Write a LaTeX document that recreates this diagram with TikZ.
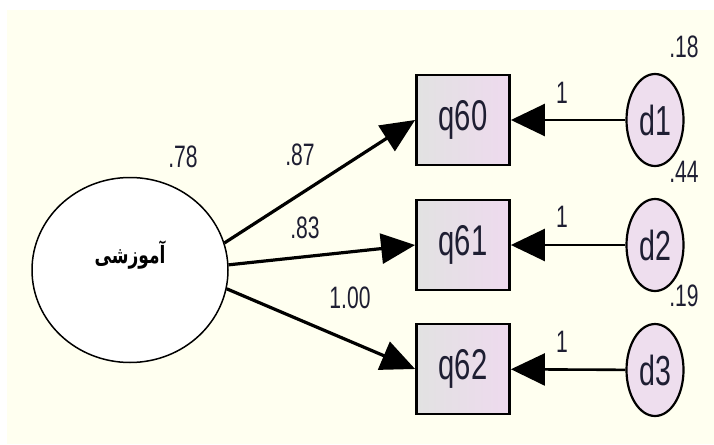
\documentclass[tikz,border=0pt]{standalone}
\usepackage{fontspec}
\setmainfont{Liberation Sans}
\newfontfamily\arabicfont[Script=Arabic]{DejaVu Sans}
\TeXXeTstate=1
\usetikzlibrary{arrows.meta,shapes.geometric}
\definecolor{bgcream}{RGB}{255,255,240}
\definecolor{boxleft}{RGB}{226,226,226}
\definecolor{boxright}{RGB}{238,218,238}
\definecolor{errfill}{RGB}{238,222,238}
\definecolor{txt}{RGB}{30,30,50}
\newcommand\narrowtxt[1]{\scalebox{0.68}[1]{#1}}
\begin{document}
\begin{tikzpicture}[x=1pt,y=-1pt,
  obs/.style={draw,line width=2.8pt,left color=boxleft,right color=boxright,
    minimum width=93pt,minimum height=90pt,inner sep=0pt,
    font=\fontsize{43}{43}\selectfont,text=txt},
  err/.style={ellipse,draw,line width=2.2pt,fill=errfill,minimum width=57pt,
    minimum height=92pt,inner sep=0pt,font=\fontsize{42}{42}\selectfont,text=txt},
  lat/.style={ellipse,draw,line width=1.5pt,fill=white,minimum width=196pt,
    minimum height=185pt,inner sep=0pt},
  num/.style={font=\fontsize{31}{31}\selectfont,text=txt,inner sep=0pt},
  loadarrow/.style={line width=3.2pt,-{Triangle[length=34pt,width=30pt]}},
  errarrow/.style={line width=2.6pt,-{Triangle[length=34pt,width=32pt]}},
]
\useasboundingbox (0,0) rectangle (714,444);
\fill[white] (0,0) rectangle (714,444);
\fill[bgcream] (7,10) rectangle (714,444);

\node[lat] (f) at (130,270) {\raisebox{7pt}[0pt][0pt]{\scalebox{1}[1.4]{\arabicfont\bfseries\fontsize{17}{17}\selectfont\beginR آموزشی\endR}}};

\node[obs] (q60) at (463,120) {\narrowtxt{q60}};
\node[obs] (q61) at (463,245) {\narrowtxt{q61}};
\node[obs] (q62) at (463,369) {\narrowtxt{q62}};

\node[err] (d1) at (655,120) {\narrowtxt{d1}};
\node[err] (d2) at (655,245) {\narrowtxt{d2}};
\node[err] (d3) at (655,370) {\narrowtxt{d3}};

\draw[loadarrow] (f.16) -- (q60.west);
\draw[loadarrow] (f.3) -- (q61.west);
\draw[loadarrow] (f.-11) -- (q62.west);

\draw[errarrow] (d1) -- (q60);
\draw[errarrow] (d2) -- (q61);
\draw[errarrow] (d3) -- (q62);

\node[num] (l78) at (183,157) {\narrowtxt{.78}};
\node[num] (l87) at (300,155) {\narrowtxt{.87}};
\node[num] (l83) at (305,228) {\narrowtxt{.83}};
\node[num] (l100) at (350,298) {\narrowtxt{1.00}};
\node[num] (w1) at (562,93) {\narrowtxt{1}};
\node[num] (w2) at (562,217) {\narrowtxt{1}};
\node[num] (w3) at (562,342) {\narrowtxt{1}};
\node[num] (v1) at (684,47) {\narrowtxt{.18}};
\node[num] (v2) at (684,172) {\narrowtxt{.44}};
\node[num] (v3) at (684,296) {\narrowtxt{.19}};
\end{tikzpicture}
\end{document}
